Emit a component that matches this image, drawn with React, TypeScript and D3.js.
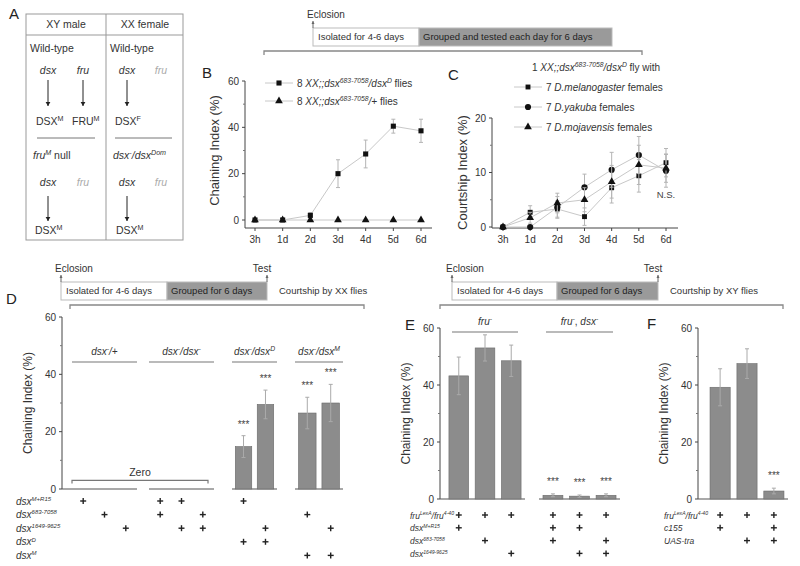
import React from "react";
import * as d3 from "d3";

const FONT = "Arial, 'Liberation Sans', Helvetica, sans-serif";

// B: chaining over days
const days = ["3h", "1d", "2d", "3d", "4d", "5d", "6d"];
const bDsxD = [0, 0, 2, 20, 28.5, 40.5, 38.5];
const bDsxDErr = [0, 0, 1.2, 6, 6, 3, 5];
const bPlus = [0, 0, 0, 0, 0, 0, 0];
const bPlusErr = [0, 0, 0, 0, 0, 0, 0];

// C: courtship towards other species
const cMel = [0, 2.7, 3.3, 1.9, 7.2, 9.4, 11.8];
const cMelErr = [0, 1.2, 1.5, 1.6, 2.8, 3, 2.6];
const cYak = [0, 0, 3.6, 7.3, 10.5, 13.2, 10.3];
const cYakErr = [0, 0, 2, 2.4, 3.2, 3.4, 3];
const cMoj = [0, 1.7, 4.4, 5.0, 8.3, 11.4, 10.8];
const cMojErr = [0, 1, 1.8, 2.2, 3, 3.6, 2.6];

// D
const dGroupLabels = ["*dsx^{-}/+*", "*dsx^{-}/dsx^{-}*", "*dsx^{-}/dsx^{D}*", "*dsx^{-}/dsx^{M}*"];
const dGroupSizes = [3, 3, 2, 2];
const dValues = [0, 0, 0, 0, 0, 0, 14.8, 29.5, 26.5, 30];
const dErrors = [0, 0, 0, 0, 0, 0, 3.8, 5, 5.5, 6.5];
const dStars = [0, 0, 0, 0, 0, 0, 1, 1, 1, 1];
const dRowLabels = ["*dsx^{M+R15}*", "*dsx^{683-7058}*", "*dsx^{1649-9625}*", "*dsx^{D}*", "*dsx^{M}*"];
const dPlus = [[0], [1], [2], [0, 1], [0, 2], [1, 2], [0, 3], [2, 3], [1, 4], [2, 4]];

// E
const eGroupLabels = ["*fru^{-}*", "*fru^{-}*, *dsx^{-}*"];
const eGroupSizes = [3, 3];
const eValues = [43.2, 53, 48.5, 1.3, 1.0, 1.3];
const eErrors = [6.6, 4.6, 5.5, 0.5, 0.4, 0.5];
const eStars = [0, 0, 0, 1, 1, 1];
const eRowLabels = ["*fru^{LexA}/fru^{4-40}*", "*dsx^{M+R15}*", "*dsx^{683-7058}*", "*dsx^{1649-9625}*"];
const ePlus = [[0, 1], [0, 2], [0, 3], [0, 1, 2], [0, 1, 3], [0, 2, 3]];

// F
const fValues = [39.2, 47.5, 2.8];
const fErrors = [6.5, 5.2, 1];
const fStars = [0, 0, 1];
const fRowLabels = ["*fru^{LexA}/fru^{4-40}*", "*c155*", "*UAS-tra*"];
const fPlus = [[0, 1], [0, 2], [0, 1, 2]];

type Seg = { t: string; it: boolean; sup: boolean };
const parse = (s: string): Seg[] => {
  const out: Seg[] = [];
  let it = false, sup = false, buf = "";
  const push = () => { if (buf) { out.push({ t: buf, it, sup }); buf = ""; } };
  for (let i = 0; i < s.length; i++) {
    const c = s[i];
    if (c === "*") { push(); it = !it; }
    else if (c === "^" && s[i + 1] === "{") { push(); sup = true; i++; }
    else if (c === "}" && sup) { push(); sup = false; }
    else buf += c;
  }
  push();
  return out;
};

const Rich = ({ x, y, s, size = 10, anchor = "start", fill = "#333", supScale = 0.68 }: any) => {
  const segs = parse(s);
  const rise = size * 0.38;
  let up = false;
  return (
    <text x={x} y={y} fontSize={size} textAnchor={anchor} fill={fill} fontFamily={FONT}>
      {segs.map((g, i) => {
        let dy = 0;
        if (g.sup && !up) { dy = -rise; up = true; }
        else if (!g.sup && up) { dy = rise; up = false; }
        return (
          <tspan key={i} dy={dy} fontSize={g.sup ? size * supScale : size} fontStyle={g.it ? "italic" : "normal"}>
            {g.t}
          </tspan>
        );
      })}
    </text>
  );
};

const Arrow = ({ x, y1, y2, head = 4 }: any) => (
  <g>
    <line x1={x} x2={x} y1={y1} y2={y2} stroke="#222" strokeWidth={1} />
    <path d={`M${x - head * 0.6},${y2 - head} L${x + head * 0.6},${y2 - head} L${x},${y2} Z`} fill="#222" />
  </g>
);

const UpArrow = ({ x, y1, y2 }: any) => (
  <g>
    <line x1={x} x2={x} y1={y1} y2={y2} stroke="#666" />
    <path d={`M${x - 1.5},${y2 + 3} L${x + 1.5},${y2 + 3} L${x},${y2} Z`} fill="#666" />
  </g>
);

const YAxis = ({ x, scale, ticks, minor, bottom, title, titleX, size = 10, titleSize = 12 }: any) => {
  const [d0, d1] = scale.domain();
  return (
    <g fontFamily={FONT}>
      <line x1={x} x2={x} y1={scale(d1)} y2={bottom ?? scale(d0)} stroke="#444" />
      {ticks.map((t: number) => (
        <g key={t}>
          <line x1={x - 3} x2={x} y1={scale(t)} y2={scale(t)} stroke="#444" />
          <text x={x - 6} y={scale(t)} dy="0.35em" fontSize={size} textAnchor="end" fill="#333">{t}</text>
        </g>
      ))}
      {minor.map((t: number) => (
        <line key={t} x1={x - 2} x2={x} y1={scale(t)} y2={scale(t)} stroke="#777" />
      ))}
      <text transform={`translate(${titleX},${scale((d0 + d1) / 2)}) rotate(-90)`} textAnchor="middle"
        fontSize={titleSize} fill="#333">{title}</text>
    </g>
  );
};

const Timeline = ({ x0, xs, x1, y, h, left, right, after, test, bracket }: any) => (
  <g fontFamily={FONT} fontSize={9.5}>
    <rect x={x0} y={y} width={xs - x0} height={h} fill="#fff" stroke="#bbb" />
    <rect x={xs} y={y} width={x1 - xs} height={h} fill="#9a9a9a" stroke="#bbb" />
    <text x={x0 + 5} y={y + h / 2} dy="0.35em" fill="#333">{left}</text>
    <text x={xs + 4} y={y + h / 2} dy="0.35em" fill="#222">{right}</text>
    {after && <text x={x1 + 12} y={y + h / 2} dy="0.35em" fill="#333">{after}</text>}
    <UpArrow x={x0} y1={y} y2={y - 7} />
    <text x={x0 - 6} y={y - 10} fontSize={10} fill="#333">Eclosion</text>
    {test && <UpArrow x={x1} y1={y} y2={y - 7} />}
    {test && <text x={x1 - 5} y={y - 10} fontSize={10} textAnchor="middle" fill="#333">Test</text>}
    <path d={`M${bracket[0]},${bracket[2] + 4} V${bracket[2]} H${bracket[1]} V${bracket[2] + 4}`}
      fill="none" stroke="#888" strokeWidth={1.3} />
  </g>
);

const symbolPath = (type: any, size: number) => d3.symbol().type(type).size(size)() as string;

const LineChart = ({ x, y, axisX, axisY, xEnd, series, yTicks, yMinor, title, titleX }: any) => {
  const line = d3.line<number>().x((_, i) => x(days[i]) as number).y((d) => y(d));
  return (
    <g fontFamily={FONT}>
      <YAxis x={axisX} scale={y} ticks={yTicks} minor={yMinor} bottom={axisY} title={title} titleX={titleX} titleSize={13} />
      <line x1={axisX} x2={xEnd} y1={axisY} y2={axisY} stroke="#444" />
      {days.map((d) => (
        <g key={d}>
          <line x1={x(d)} x2={x(d)} y1={axisY} y2={axisY + 3} stroke="#444" />
          <text x={x(d)} y={axisY + 15} fontSize={10} textAnchor="middle" fill="#333">{d}</text>
        </g>
      ))}
      {series.map((s: any, k: number) => (
        <g key={k}>
          <path d={line(s.values) as string} fill="none" stroke="#c8c8c8" strokeWidth={1} />
          {s.values.map((v: number, i: number) => s.errs[i] > 0 && (
            <g key={i} stroke="#b5b5b5">
              <line x1={x(days[i])} x2={x(days[i])} y1={y(v - s.errs[i])} y2={y(v + s.errs[i])} />
              <line x1={(x(days[i]) as number) - 2} x2={(x(days[i]) as number) + 2} y1={y(v + s.errs[i])} y2={y(v + s.errs[i])} />
              <line x1={(x(days[i]) as number) - 2} x2={(x(days[i]) as number) + 2} y1={y(v - s.errs[i])} y2={y(v - s.errs[i])} />
            </g>
          ))}
          {s.values.map((v: number, i: number) => (
            <path key={"m" + i} d={symbolPath(s.symbol, s.size)} transform={`translate(${x(days[i])},${y(v)})`} fill="#111" />
          ))}
        </g>
      ))}
    </g>
  );
};

const BarPanel = ({ y, axisX, groupX, groupSizes, groupLabels, groupLabelY, underlineInset = 0,
  values, errors, stars, rowLabels, rowX, rowY0, rowStep, plus, rowSize = 10, starOffset = 7 }: any) => {
  let col = 0;
  const cols: number[] = [];
  const bw: number[] = [];
  groupSizes.forEach((n: number, g: number) => {
    const band = d3.scaleBand<number>().domain(d3.range(n)).range(groupX[g]).paddingInner(0.25).paddingOuter(0.15);
    for (let i = 0; i < n; i++) { cols[col] = (band(i) as number) + band.bandwidth() / 2; bw[col] = band.bandwidth(); col++; }
  });
  const base = y(0);
  return (
    <g fontFamily={FONT}>
      <YAxis x={axisX} scale={y} ticks={[0, 20, 40, 60]} minor={[10, 30, 50]} title="Chaining Index (%)" titleX={axisX - 30} titleSize={12} />
      {groupX.map((r: number[], g: number) => (
        <line key={g} x1={g === 0 ? axisX : r[0]} x2={r[1]} y1={base} y2={base} stroke="#555" strokeWidth={1.2} />
      ))}
      {groupLabels && groupLabels.map((l: string, g: number) => (
        <g key={g}>
          <Rich x={(groupX[g][0] + groupX[g][1]) / 2} y={groupLabelY} s={l} size={10} anchor="middle" />
          <line x1={groupX[g][0] + underlineInset} x2={groupX[g][1] - underlineInset} y1={groupLabelY + 7} y2={groupLabelY + 7} stroke="#777" strokeWidth={1.2} />
        </g>
      ))}
      {values.map((v: number, i: number) => v > 0 && (
        <g key={i}>
          <rect x={cols[i] - bw[i] / 2} y={y(v)} width={bw[i]} height={base - y(v)} fill="#8c8c8c" stroke="#6a6a6a" strokeWidth={0.6} />
          <g stroke="#aaa">
            <line x1={cols[i]} x2={cols[i]} y1={y(v - errors[i])} y2={y(v + errors[i])} />
            <line x1={cols[i] - 2} x2={cols[i] + 2} y1={y(v + errors[i])} y2={y(v + errors[i])} />
            <line x1={cols[i] - 2} x2={cols[i] + 2} y1={y(v - errors[i])} y2={y(v - errors[i])} />
          </g>
          {stars[i] ? (
            <text x={cols[i]} y={y(v + errors[i]) - starOffset} fontSize={10} textAnchor="middle" fill="#444">***</text>
          ) : null}
        </g>
      ))}
      {rowLabels.map((l: string, r: number) => (
        <Rich key={r} x={rowX} y={rowY0 + r * rowStep + 3.5} s={l} size={rowSize} supScale={0.6} />
      ))}
      {plus.map((rows: number[], i: number) => rows.map((r) => (
        <g key={i + "-" + r} stroke="#222" strokeWidth={1.4}>
          <line x1={cols[i] - 3} x2={cols[i] + 3} y1={rowY0 + r * rowStep} y2={rowY0 + r * rowStep} />
          <line x1={cols[i]} x2={cols[i]} y1={rowY0 + r * rowStep - 3} y2={rowY0 + r * rowStep + 3} />
        </g>
      )))}
    </g>
  );
};

const PanelA = () => {
  const gray = "#aaa";
  return (
    <g fontFamily={FONT} fill="#333">
      <rect x={26} y={14} width={157} height={226} fill="none" stroke="#999" />
      <line x1={106} x2={106} y1={14} y2={240} stroke="#999" />
      <line x1={26} x2={183} y1={35} y2={35} stroke="#999" />
      <text x={66} y={28} fontSize={10.5} textAnchor="middle">XY male</text>
      <text x={145} y={28} fontSize={10.5} textAnchor="middle">XX female</text>
      <text x={30} y={52} fontSize={10.5}>Wild-type</text>
      <text x={110} y={52} fontSize={10.5}>Wild-type</text>
      <Rich x={48} y={74} s="*dsx*" size={10.5} anchor="middle" />
      <Rich x={83} y={74} s="*fru*" size={10.5} anchor="middle" />
      <Rich x={127} y={74} s="*dsx*" size={10.5} anchor="middle" />
      <Rich x={161} y={74} s="*fru*" size={10.5} anchor="middle" fill={gray} />
      <Arrow x={48} y1={80} y2={106} />
      <Arrow x={83} y1={80} y2={106} />
      <Arrow x={127} y1={80} y2={106} />
      <Rich x={36} y={125} s="DSX^{M}" size={10.5} />
      <Rich x={72} y={125} s="FRU^{M}" size={10.5} />
      <Rich x={115} y={125} s="DSX^{F}" size={10.5} />
      <line x1={37} x2={95} y1={138} y2={138} stroke="#777" />
      <line x1={115} x2={172} y1={138} y2={138} stroke="#777" />
      <Rich x={33} y={159} s="*fru^{M}* null" size={10.5} />
      <Rich x={113} y={159} s="*dsx^{-}/dsx^{Dom}*" size={10.5} />
      <Rich x={48} y={186} s="*dsx*" size={10.5} anchor="middle" />
      <Rich x={83} y={186} s="*fru*" size={10.5} anchor="middle" fill={gray} />
      <Rich x={127} y={186} s="*dsx*" size={10.5} anchor="middle" />
      <Rich x={161} y={186} s="*fru*" size={10.5} anchor="middle" fill={gray} />
      <Arrow x={48} y1={196} y2={221} />
      <Arrow x={127} y1={196} y2={221} />
      <Rich x={35} y={234} s="DSX^{M}" size={10.5} />
      <Rich x={116} y={234} s="DSX^{M}" size={10.5} />
    </g>
  );
};

export default function App() {
  const xB = d3.scalePoint<string>().domain(days).range([255, 421]);
  const yB = d3.scaleLinear().domain([0, 60]).range([220, 81]);
  const xC = d3.scalePoint<string>().domain(days).range([503, 666]);
  const yC = d3.scaleLinear().domain([0, 20]).range([227, 118]);
  const yD = d3.scaleLinear().domain([0, 60]).range([489, 317]);
  const yE = d3.scaleLinear().domain([0, 60]).range([499, 328]);

  const legend = (x: number, y: number, sym: any, size: number, label: string) => (
    <g>
      <line x1={x - 14} x2={x + 14} y1={y} y2={y} stroke="#c8c8c8" />
      <path d={symbolPath(sym, size)} transform={`translate(${x},${y})`} fill="#111" />
      <Rich x={x + 18} y={y + 3.5} s={label} size={10} />
    </g>
  );

  return (
    <svg width={800} height={566} style={{ position: "absolute", left: 0, top: 0, background: "#fff" }}>
      <g fontFamily={FONT} fontSize={15} fill="#222">
        <text x={9} y={19}>A</text>
        <text x={202} y={78}>B</text>
        <text x={448} y={80}>C</text>
        <text x={6} y={304}>D</text>
        <text x={405} y={330}>E</text>
        <text x={647} y={329}>F</text>
      </g>
      <PanelA />

      <Timeline x0={313} xs={419} x1={612} y={28} h={18} left="Isolated for 4-6 days"
        right="Grouped and tested each day for 6 days" bracket={[264, 642, 51]} />

      <LineChart x={xB} y={yB} axisX={245} axisY={228} xEnd={432} yTicks={[0, 20, 40, 60]} yMinor={[10, 30, 50]}
        title="Chaining Index (%)" titleX={219}
        series={[
          { values: bDsxD, errs: bDsxDErr, symbol: d3.symbolSquare, size: 26 },
          { values: bPlus, errs: bPlusErr, symbol: d3.symbolTriangle, size: 26 },
        ]} />
      {legend(279, 83, d3.symbolSquare, 26, "8 *XX;;dsx^{683-7058}/dsx^{D}* flies")}
      {legend(279, 101, d3.symbolTriangle, 26, "8 *XX;;dsx^{683-7058}/+* flies")}

      <LineChart x={xC} y={yC} axisX={492} axisY={228} xEnd={678} yTicks={[0, 10, 20]} yMinor={[5, 15]}
        title="Courtship Index (%)" titleX={467}
        series={[
          { values: cMel, errs: cMelErr, symbol: d3.symbolSquare, size: 24 },
          { values: cYak, errs: cYakErr, symbol: d3.symbolCircle, size: 30 },
          { values: cMoj, errs: cMojErr, symbol: d3.symbolTriangle, size: 26 },
        ]} />
      <Rich x={532} y={71} s="1 *XX;;dsx^{683-7058}/dsx^{D}* fly with" size={10} />
      {legend(528, 87, d3.symbolSquare, 24, "7 *D.melanogaster* females")}
      {legend(528, 107, d3.symbolCircle, 30, "7 *D.yakuba* females")}
      {legend(528, 127, d3.symbolTriangle, 26, "7 *D.mojavensis* females")}
      <text x={xC("6d")} y={yC(5.3)} fontSize={9.5} textAnchor="middle" fill="#444" fontFamily={FONT}>N.S.</text>

      <Timeline x0={61} xs={167} x1={267} y={282} h={18} left="Isolated for 4-6 days" right="Grouped for 6 days"
        after="Courtship by XX flies" test bracket={[70, 364, 305]} />
      <BarPanel y={yD} axisX={62} groupX={[[72, 137], [149, 214], [232, 277], [295, 343]]} groupSizes={dGroupSizes}
        groupLabels={dGroupLabels} groupLabelY={355} values={dValues} errors={dErrors} stars={dStars}
        rowLabels={dRowLabels} rowX={16} rowY0={501} rowStep={13.6} plus={dPlus} rowSize={10} starOffset={8} />
      <g fontFamily={FONT}>
        <path d={`M72,${yD(3) + 3} V${yD(3)} H208 V${yD(3) + 3}`} fill="none" stroke="#777" strokeWidth={1.2} />
        <text x={140} y={yD(3) - 4} fontSize={10.5} textAnchor="middle" fill="#333">Zero</text>
      </g>

      <Timeline x0={452} xs={557} x1={658} y={282} h={18} left="Isolated for 4-6 days" right="Grouped for 6 days"
        after="Courtship by XY flies" test bracket={[440, 783, 305]} />
      <BarPanel y={yE} axisX={440} groupX={[[445, 525], [539, 620]]} groupSizes={eGroupSizes}
        groupLabels={eGroupLabels} groupLabelY={325} underlineInset={7} values={eValues} errors={eErrors} stars={eStars}
        rowLabels={eRowLabels} rowX={410} rowY0={515} rowStep={12.8} plus={ePlus} rowSize={8.5} starOffset={9} />

      <BarPanel y={yE} axisX={698} groupX={[[706, 788]]} groupSizes={[3]}
        values={fValues} errors={fErrors} stars={fStars}
        rowLabels={fRowLabels} rowX={664} rowY0={515} rowStep={12.8} plus={fPlus} rowSize={8.5} starOffset={9} />
    </svg>
  );
}
